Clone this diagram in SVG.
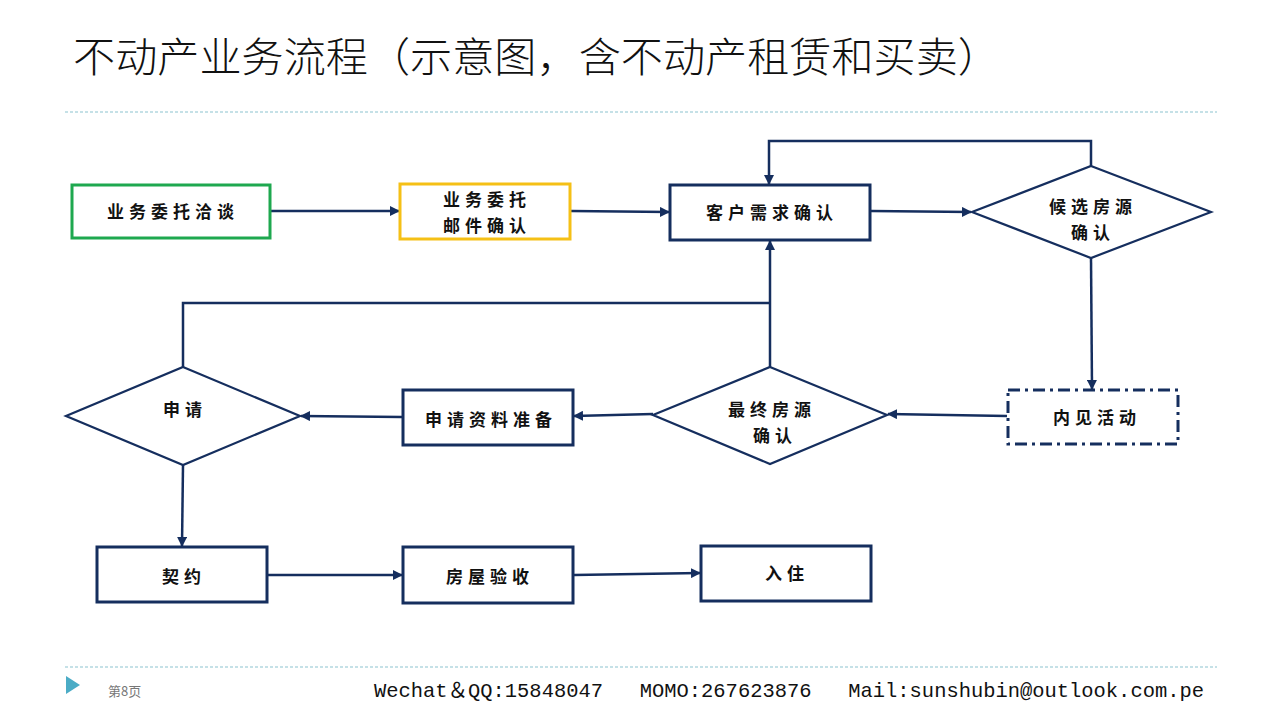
<svg xmlns="http://www.w3.org/2000/svg" width="1280" height="720" viewBox="0 0 1280 720">
  <defs>
    <marker id="arrow" viewBox="0 0 10 10" refX="9" refY="5" markerWidth="4" markerHeight="4" orient="auto" markerUnits="strokeWidth">
      <path d="M0,0 L10,5 L0,10 z" fill="#152E5E"/>
    </marker>
    <style>
      .box { fill: #ffffff; stroke: #152E5E; stroke-width: 3; }
      .dia { fill: #ffffff; stroke: #152E5E; stroke-width: 2.2; }
      .lbl { font-family: "Noto Sans CJK SC", "Noto Sans", sans-serif; font-weight: 700; font-size: 17px; fill: #111111; text-anchor: middle; letter-spacing: 5px; }
      .conn path, .conn line { fill: none; stroke: #152E5E; stroke-width: 2.5; }
      .rule { stroke: #8CC3CF; stroke-width: 1.2; stroke-dasharray: 3 2; }
    </style>
  </defs>

  <rect width="1280" height="720" fill="#ffffff"/>

  <!-- heading -->
  <text x="73" y="72" font-family="Noto Sans CJK SC, sans-serif" font-weight="300" font-size="41" fill="#111111" textLength="927" lengthAdjust="spacingAndGlyphs">不动产业务流程（示意图，含不动产租赁和买卖）</text>
  <line class="rule" x1="65" y1="112" x2="1217" y2="112"/>

  <!-- connectors -->
  <g id="connectors" class="conn">
    <line x1="271" y1="211" x2="399" y2="211" marker-end="url(#arrow)"/>
    <line x1="571" y1="211" x2="669" y2="212" marker-end="url(#arrow)"/>
    <line x1="871" y1="211" x2="971" y2="212" marker-end="url(#arrow)"/>
    <path d="M1091,166 V141 H769 V184" marker-end="url(#arrow)"/>
    <line x1="1091" y1="258" x2="1092" y2="389" marker-end="url(#arrow)"/>
    <line x1="1007" y1="416" x2="888" y2="414" marker-end="url(#arrow)"/>
    <line x1="653" y1="414" x2="574" y2="416" marker-end="url(#arrow)"/>
    <line x1="402" y1="417" x2="301" y2="416" marker-end="url(#arrow)"/>
    <line x1="770" y1="367" x2="770" y2="241" marker-end="url(#arrow)"/>
    <path d="M183,367 V303 H770"/>
    <line x1="183" y1="465" x2="182" y2="546" marker-end="url(#arrow)"/>
    <line x1="268" y1="575" x2="402" y2="575" marker-end="url(#arrow)"/>
    <line x1="574" y1="575" x2="700" y2="573" marker-end="url(#arrow)"/>
  </g>

  <!-- nodes -->
  <g id="n-negotiate">
    <rect x="72" y="185" width="198" height="53" fill="#ffffff" stroke="#1EA84F" stroke-width="3"/>
    <text class="lbl" x="173" y="218">业务委托洽谈</text>
  </g>
  <g id="n-mail-confirm">
    <rect x="400" y="184" width="170" height="55" fill="#ffffff" stroke="#F5C016" stroke-width="3"/>
    <text class="lbl" x="487" y="206">业务委托</text>
    <text class="lbl" x="487" y="232">邮件确认</text>
  </g>
  <g id="n-needs">
    <rect class="box" x="670" y="185" width="200" height="55"/>
    <text class="lbl" x="772" y="219">客户需求确认</text>
  </g>
  <g id="n-candidate">
    <polygon class="dia" points="1091,166 1211,212 1091,258 972,212"/>
    <text class="lbl" x="1093" y="213">候选房源</text>
    <text class="lbl" x="1093" y="239">确认</text>
  </g>
  <g id="n-viewing">
    <rect x="1008" y="390" width="170" height="54" fill="#ffffff" stroke="#152E5E" stroke-width="3" stroke-dasharray="12 5 3 5"/>
    <text class="lbl" x="1097" y="424">内见活动</text>
  </g>
  <g id="n-final">
    <polygon class="dia" points="770,367 887,415 770,464 653,415"/>
    <text class="lbl" x="772" y="416">最终房源</text>
    <text class="lbl" x="775" y="442">确认</text>
  </g>
  <g id="n-docs">
    <rect class="box" x="403" y="390" width="170" height="55"/>
    <text class="lbl" x="491" y="426">申请资料准备</text>
  </g>
  <g id="n-apply">
    <polygon class="dia" points="183,367 300,416 183,465 66,416"/>
    <text class="lbl" x="185" y="416">申请</text>
  </g>
  <g id="n-contract">
    <rect class="box" x="97" y="547" width="170" height="55"/>
    <text class="lbl" x="184" y="583">契约</text>
  </g>
  <g id="n-inspection">
    <rect class="box" x="403" y="547" width="170" height="56"/>
    <text class="lbl" x="490" y="583">房屋验收</text>
  </g>
  <g id="n-move-in">
    <rect class="box" x="701" y="546" width="170" height="55"/>
    <text class="lbl" x="787" y="580">入住</text>
  </g>

  <!-- footer -->
  <line class="rule" x1="65" y1="667" x2="1217" y2="667"/>
  <polygon points="66,676 80,685 66,694" fill="#4BACC6"/>
  <text x="108" y="696" font-family="Noto Sans CJK SC, sans-serif" font-size="13" fill="#777777">第8页</text>
  <text x="374" y="697" xml:space="preserve" style="white-space:pre" font-family="Liberation Mono, Noto Sans CJK SC, monospace" font-size="21" fill="#111111" textLength="830" lengthAdjust="spacingAndGlyphs">Wechat＆QQ:15848047   MOMO:267623876   Mail:sunshubin@outlook.com.pe</text>
</svg>
